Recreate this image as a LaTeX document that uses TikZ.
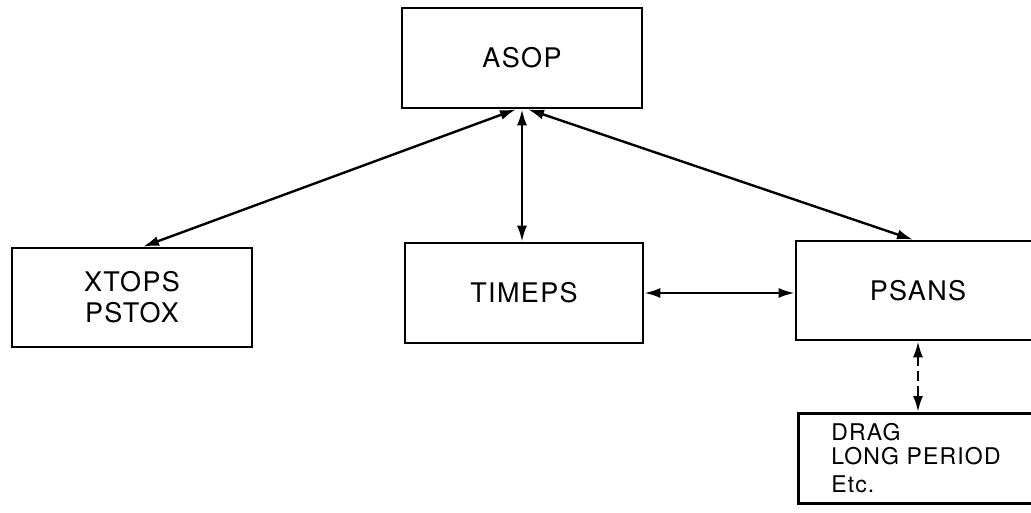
\documentclass[tikz,border=0pt]{standalone}
\usepackage{fontspec}
\setmainfont[LetterSpace=5]{TeX Gyre Heros}
\usetikzlibrary{arrows.meta}
\tikzset{
  blk/.style={draw, line width=2.6pt, rectangle, inner sep=0pt, font=\fontsize{27}{31}\selectfont, align=center},
  link/.style={line width=2.4pt, {Latex[length=16pt,width=10pt]}-{Latex[length=16pt,width=10pt]}},
}
\begin{document}
\begin{tikzpicture}[x=1pt,y=-1pt]
\useasboundingbox (0,0) rectangle (1031,512);
\clip (0,0) rectangle (1031,512);
\node[blk, minimum width=240pt, minimum height=100pt] (asop) at (522,58) {ASOP};
\node[blk, minimum width=240pt, minimum height=99pt] (xtops) at (132,297.5) {XTOPS\\PSTOX};
\node[blk, minimum width=238pt, minimum height=100pt] (timeps) at (524,293) {TIMEPS};
\node[blk, minimum width=244pt, minimum height=99pt] (psans) at (918,290.5) {PSANS};
\node[blk, anchor=north west, minimum height=90pt, text width=220pt, align=left, inner xsep=33pt, font=\fontsize{23}{26}\selectfont] (drag) at (797,412) {DRAG\\[-2pt]LONG PERIOD\\[2pt]Etc.};
\draw[link] ([xshift=-6pt]asop.south) -- ([xshift=11pt]xtops.north);
\draw[link] (asop.south) -- (asop.south |- timeps.north);
\draw[link] ([xshift=6pt]asop.south) -- ([xshift=-5pt]psans.north);
\draw[link] (timeps.east) -- (timeps.east -| psans.west);
\draw[link, dash pattern=on 10pt off 5pt] (psans.south) -- (psans.south |- drag.north);
\end{tikzpicture}
\end{document}
